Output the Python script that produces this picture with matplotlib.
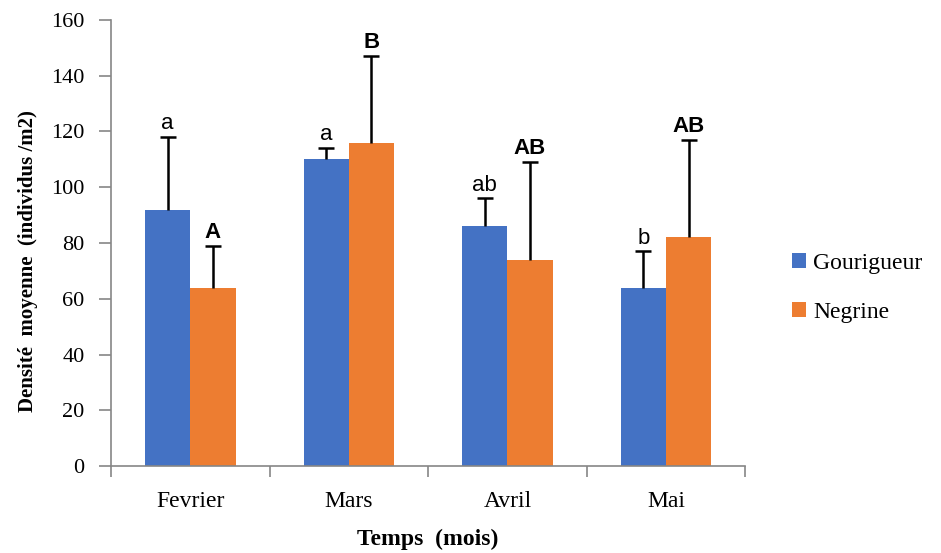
import numpy as np
import matplotlib
matplotlib.use("Agg")
import matplotlib.pyplot as plt

mois = ["Fevrier", "Mars", "Avril", "Mai"]
gourigueur = [92, 110, 86, 64]
gourigueur_err = [26, 4, 10, 13]
negrine = [64, 116, 74, 82]
negrine_err = [15, 31, 35, 35]
lettres_g = ["a", "a", "ab", "b"]
lettres_n = ["A", "B", "AB", "AB"]

bleu = "#4472C4"
orange = "#ED7D31"
gris = "#868686"

fig = plt.figure(figsize=(9.41, 5.53), dpi=100)
ax = fig.add_axes([0.118, 0.157, 0.674, 0.807])

x = np.arange(len(mois))
w = 0.285
ax.bar(x - w / 2, gourigueur, w, color=bleu, label="Gourigueur")
ax.bar(x + w / 2, negrine, w, color=orange, label="Negrine")
for pos, val, err in [(x - w / 2, gourigueur, gourigueur_err), (x + w / 2, negrine, negrine_err)]:
    eb = ax.errorbar(pos, val, yerr=[np.zeros(4), err], fmt="none",
                     ecolor="black", elinewidth=1.8, capsize=6, capthick=1.8)
    # pas de trait en bas
    eb.lines[1][0].set_visible(False)

for i in range(len(mois)):
    ax.text(x[i] - w / 2, gourigueur[i] + gourigueur_err[i] + 1, lettres_g[i],
            ha="center", va="bottom", fontsize=16, family="Liberation Sans")
    ax.text(x[i] + w / 2, negrine[i] + negrine_err[i] + 1, lettres_n[i],
            ha="center", va="bottom", fontsize=16, fontweight="bold", family="Liberation Sans")

ax.set_xlim(-0.5, 3.5)
ax.set_ylim(0, 160)
ax.set_yticks(range(0, 161, 20))
ax.set_xticks(x)
ax.set_xticklabels(mois, family="Liberation Serif", fontsize=17)
ax.set_xticks(np.arange(-0.5, 4, 1), minor=True)
ax.tick_params(axis="x", which="major", length=0, pad=18)
ax.tick_params(axis="x", which="minor", length=8, color=gris, width=1.2)
ax.tick_params(axis="y", length=9, color=gris, width=1.2, labelsize=16, pad=10)
for lab in ax.get_yticklabels():
    lab.set_family("Liberation Serif")

for s in ["top", "right"]:
    ax.spines[s].set_visible(False)
for s in ["left", "bottom"]:
    ax.spines[s].set_color(gris)
    ax.spines[s].set_linewidth(1.2)

ax.set_ylabel("Densité  moyenne  (individus /m2)", family="Liberation Serif",
              fontweight="bold", fontsize=15)
ax.yaxis.set_label_coords(-0.115, 0.46)
ax.set_xlabel("Temps  (mois)", family="Liberation Serif", fontweight="bold",
              fontsize=17, labelpad=12)

leg = ax.legend(loc="center left", bbox_to_anchor=(1.04, 0.40), frameon=False,
                prop={"family": "Liberation Serif", "size": 17},
                handlelength=0.6, handleheight=0.6, handletextpad=0.3, labelspacing=1.2)

fig.savefig("out.png", dpi=100)
